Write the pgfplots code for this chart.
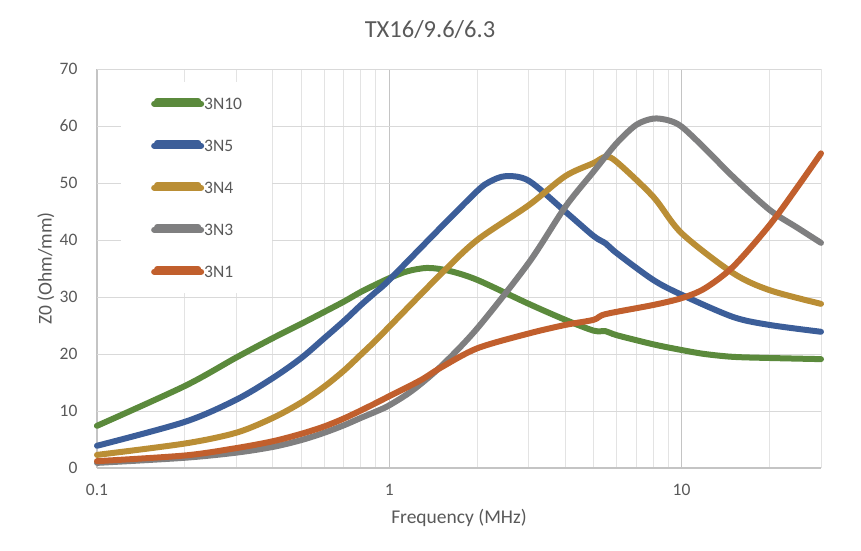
\documentclass[border=0pt]{standalone}
\usepackage{pgfplots}
\pgfplotsset{compat=1.18}
\usepackage{fontspec}
\setmainfont{Carlito}
\definecolor{txt}{HTML}{595959}
\definecolor{cten}{HTML}{5B8A3C}
\definecolor{cfive}{HTML}{3C5E99}
\definecolor{cfour}{HTML}{BA8E35}
\definecolor{cthree}{HTML}{7F7F80}
\definecolor{cone}{HTML}{C15F2D}
\definecolor{gmaj}{HTML}{C4C4C4}
\definecolor{gmin}{HTML}{E3E3E3}
\definecolor{gy}{HTML}{D9D9D9}
\begin{document}
\begin{tikzpicture}
\useasboundingbox (-97pt,-82pt) rectangle (764pt,468pt);
\begin{axis}[
  scale only axis, width=724pt, height=399pt,
  xmode=log, xmin=0.1, xmax=30, ymin=0, ymax=70,
  xtick={0.1,1,10}, xticklabels={0.1,1,10},
  minor xtick={0.2,0.3,0.4,0.5,0.6,0.7,0.8,0.9,2,3,4,5,6,7,8,9,20,30},
  ytick={0,10,20,30,40,50,60,70},
  xmajorgrids, xminorgrids, ymajorgrids,
  major x grid style={draw=gmaj, line width=1.2pt},
  minor x grid style={draw=gmin, line width=1pt},
  major y grid style={draw=gy, line width=1pt},
  axis x line*=bottom, axis y line*=left,
  x axis line style={draw=gmaj, line width=1.2pt, -},
  y axis line style={draw=none},
  major tick length=0pt, minor tick length=0pt,
  /pgf/number format/assume math mode=true,
  tick label style={font=\fontsize{17.5}{20}\selectfont, text=txt},
  yticklabel style={xshift=-16pt},
  xticklabel style={yshift=-13pt},
  clip=false,
  every axis plot/.append style={line width=6pt, line cap=round, line join=round, smooth, tension=0.5},
  legend cell align=left,
  legend image code/.code={\draw[#1, line cap=round] (3pt,2.6pt) -- (44pt,2.6pt); \path (0pt,0pt) -- (47pt,0pt);},
  legend style={at={(0.0331,0.9674)}, anchor=north west, draw=none, fill=white,
    inner xsep=30pt, inner ysep=15.5pt, row sep=30pt, column sep=0pt,
    font=\fontsize{17.5}{20}\selectfont, text=txt,
    nodes={inner sep=0pt, text height=12pt, text depth=0pt}},
]
\addplot[cten] coordinates {
(0.1,7.4)(0.2,14.4)(0.3,19.4)(0.4,22.8)(0.5,25.3)(0.6,27.4)(0.7,29.2)(0.8,30.9)(0.9,32.2)(1,33.3)(1.15,34.5)(1.35,35.1)
(1.6,34.6)(2,33.0)(3,28.8)(4,26.0)(5,24.1)(5.5,24.0)(6,23.3)(8,21.7)(10,20.7)
(12,20.0)(15,19.5)(20,19.3)(30,19.1)};
\addlegendentry{3N10}
\addplot[cfive] coordinates {
(0.1,3.9)(0.2,8.1)(0.3,12.0)(0.4,15.8)(0.5,19.3)(0.6,22.8)(0.7,25.8)(0.8,28.6)(0.9,30.9)(1,33.0)
(1.5,42.2)(2,48.6)(2.2,50.2)(2.5,51.2)(3,50.4)(4,45.0)(5,40.7)(5.5,39.4)(6,37.7)(8,33.0)
(10,30.4)(15,26.5)(20,25.1)(30,23.9)};
\addlegendentry{3N5}
\addplot[cfour] coordinates {
(0.1,2.3)(0.2,4.3)(0.3,6.2)(0.4,8.8)(0.5,11.5)(0.6,14.3)(0.7,17.1)(0.8,19.9)(0.9,22.4)(1,24.8)(1.5,34.0)
(2,40.0)(3,46.1)(4,51.2)(5,53.5)(5.5,54.6)(6,53.7)(8,47.6)(10,41.2)(15,34.2)
(20,31.2)(30,28.8)};
\addlegendentry{3N4}
\addplot[cthree] coordinates {
(0.1,0.9)(0.2,1.8)(0.3,2.7)(0.4,3.7)(0.5,4.9)(0.6,6.2)(0.7,7.5)(0.8,8.8)(0.9,9.9)(1,11.0)(1.2,13.6)(1.5,17.8)(2,24.5)
(3,36.0)(4,45.8)(5,52.0)(6,57.0)(7,60.2)(8,61.3)(9,61.0)(10,59.9)(12,56.1)
(15,51.1)(20,45.3)(25,42.1)(30,39.5)};
\addlegendentry{3N3}
\addplot[cone] coordinates {
(0.1,1.2)(0.2,2.2)(0.3,3.5)(0.4,4.7)(0.5,6.0)(0.6,7.3)(0.7,8.7)(0.8,10.1)(0.9,11.4)(1,12.6)(1.28,15.4)(1.5,17.6)(2,21.0)
(3,23.6)(4,25.1)(5,26.0)(5.5,27.0)(8,28.6)(10,29.8)(12,31.5)(15,35.3)
(20,42.6)(25,49.4)(30,55.2)};
\addlegendentry{3N1}
\end{axis}
\node[anchor=base, text=txt, font=\fontsize{24.5}{28}\selectfont] at (333pt,430.3pt) {TX16/9.6/6.3};
\node[anchor=base, text=txt, font=\fontsize{19.5}{22}\selectfont] at (362pt,-55.5pt) {Frequency (MHz)};
\node[anchor=base, rotate=90, text=txt, font=\fontsize{19.5}{22}\selectfont] at (-45.3pt,199.5pt) {Z0 (Ohm/mm)};
\end{tikzpicture}
\end{document}
